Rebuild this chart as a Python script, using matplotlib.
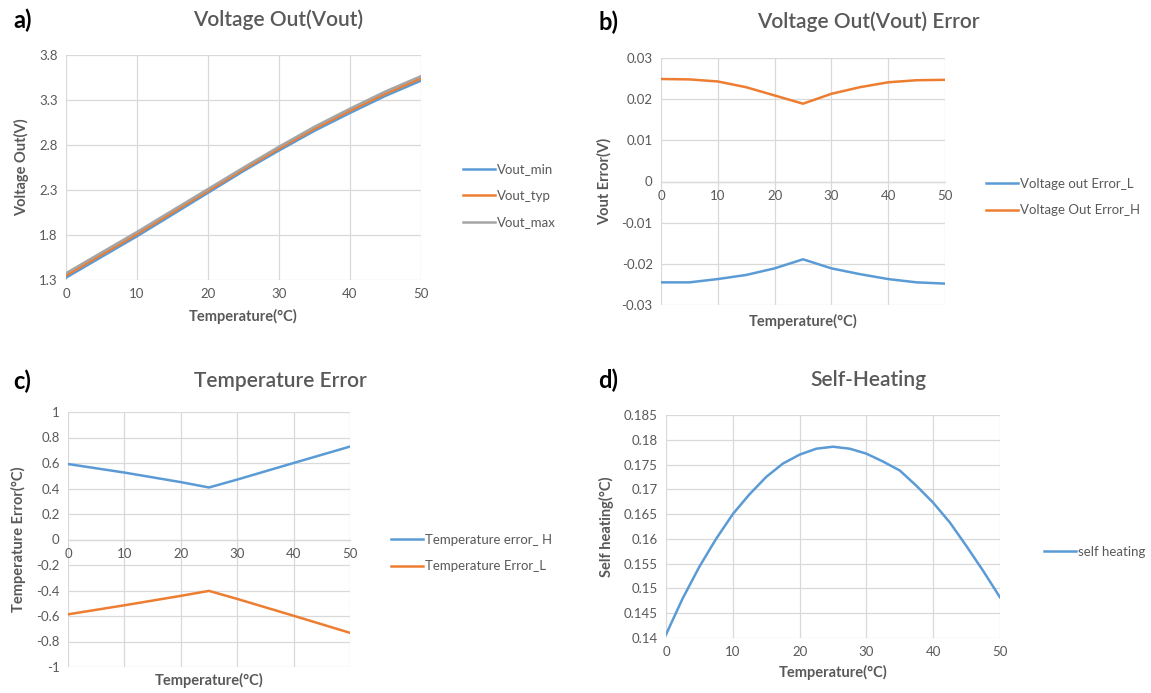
import numpy as np
import matplotlib
matplotlib.use("Agg")
import matplotlib.pyplot as plt

plt.rcParams['font.family'] = ['Lato', 'DejaVu Sans']

W, H = 1151, 693
TXT = '#595959'
GRID = '#d9d9d9'
BLUE = '#5B9BD5'
ORANGE = '#ED7D31'
GREY = '#A5A5A5'

# ---- data ----
temp = [0, 5, 10, 15, 20, 25, 30, 35, 40, 45, 50]
vout_min = [1.326, 1.556, 1.786, 2.027, 2.269, 2.511, 2.739, 2.958, 3.156, 3.346, 3.515]
vout_typ = [1.350, 1.580, 1.810, 2.050, 2.290, 2.530, 2.760, 2.980, 3.180, 3.370, 3.540]
vout_max = [1.375, 1.605, 1.834, 2.073, 2.311, 2.549, 2.781, 3.003, 3.204, 3.395, 3.565]

err_L = [-0.0245, -0.0245, -0.0237, -0.0227, -0.0211, -0.0189, -0.0211, -0.0225, -0.0237, -0.0245, -0.0248]
err_H = [0.0249, 0.0248, 0.0243, 0.0229, 0.0209, 0.0189, 0.0213, 0.0229, 0.0241, 0.0246, 0.0247]

temp_c = [0, 10, 20, 25, 30, 40, 50]
terr_H = [0.592, 0.525, 0.450, 0.408, 0.470, 0.600, 0.729]
terr_L = [-0.587, -0.516, -0.442, -0.403, -0.466, -0.598, -0.732]

temp_d = [0, 2.5, 5, 7.5, 10, 12.5, 15, 17.5, 20, 22.5, 25, 27.5, 30, 32.5, 35, 37.5, 40, 42.5, 45, 47.5, 50]
self_heat = [0.1407, 0.1480, 0.1544, 0.1600, 0.1650, 0.1690, 0.1725, 0.1752, 0.1770, 0.1782, 0.1786,
             0.1782, 0.1772, 0.1756, 0.1738, 0.1707, 0.1673, 0.1633, 0.1585, 0.1535, 0.1482]

fig = plt.figure(figsize=(W / 100, H / 100), dpi=100)
fig.patch.set_facecolor('white')


def fx(x):
    return x / W


def fy(y):
    return 1 - y / H


def make_ax(x0, y0, x1, y1):
    ax = fig.add_axes([fx(x0), fy(y1), fx(x1) - fx(x0), fy(y0) - fy(y1)])
    for s in ax.spines.values():
        s.set_visible(False)
    ax.grid(True, color=GRID, linewidth=0.9)
    ax.set_axisbelow(True)
    ax.tick_params(length=0, labelsize=9.5, colors=TXT, pad=6)
    return ax


def cross_zero(ax):
    # x axis crosses at y = 0 like in Excel
    ax.spines['bottom'].set_visible(True)
    ax.spines['bottom'].set_position(('data', 0))
    ax.spines['bottom'].set_color(GRID)
    ax.spines['bottom'].set_linewidth(0.9)


def head(x_lab, y_lab, lab, x_t, title):
    fig.text(fx(x_lab), fy(y_lab), lab, fontsize=17, fontweight='bold', color='black', va='center')
    fig.text(fx(x_t), fy(y_lab), title, fontsize=15, fontweight='semibold', color=TXT,
             ha='center', va='center')


def labels(ax, xl, yl, xpad=8):
    ax.set_xlabel(xl, fontsize=10.5, fontweight='bold', color=TXT, labelpad=xpad)
    ax.set_ylabel(yl, fontsize=10.5, fontweight='bold', color=TXT, labelpad=7)


def legend(ax, x, y):
    ax.legend(loc='center left', bbox_to_anchor=(fx(x), fy(y)), bbox_transform=fig.transFigure,
              frameon=False, fontsize=9.5, labelcolor=TXT, handlelength=2.4, handletextpad=0.15,
              labelspacing=1.1)


lw = 1.8

# a) Voltage out
ax = make_ax(66, 55, 421, 280)
ax.plot(temp, vout_min, color=BLUE, lw=lw, label='Vout_min')
ax.plot(temp, vout_typ, color=ORANGE, lw=lw, label='Vout_typ')
ax.plot(temp, vout_max, color=GREY, lw=lw, label='Vout_max')
ax.set_xlim(0, 50)
ax.set_ylim(1.3, 3.8)
ax.set_xticks([0, 10, 20, 30, 40, 50])
ax.set_yticks([1.3, 1.8, 2.3, 2.8, 3.3, 3.8])
labels(ax, 'Temperature(°C)', 'Voltage Out(V)', xpad=6)
legend(ax, 451, 196)
head(13, 20, 'a)', 278, 'Voltage Out(Vout)')

# b) Voltage out error
ax = make_ax(661, 58, 945, 305)
ax.plot(temp, err_L, color=BLUE, lw=lw, label='Voltage out Error_L')
ax.plot(temp, err_H, color=ORANGE, lw=lw, label='Voltage Out Error_H')
ax.set_xlim(0, 50)
ax.set_ylim(-0.03, 0.03)
ax.set_xticks([0, 10, 20, 30, 40, 50])
ax.set_yticks([-0.03, -0.02, -0.01, 0, 0.01, 0.02, 0.03])
ax.set_yticklabels(['-0.03', '-0.02', '-0.01', '0', '0.01', '0.02', '0.03'])
cross_zero(ax)
labels(ax, 'Temperature(°C)', 'Vout Error(V)')
ax.xaxis.set_label_coords(0.5, -0.035)
legend(ax, 974, 197)
head(598, 22, 'b)', 868, 'Voltage Out(Vout) Error')

# c) Temperature error
ax = make_ax(68, 412, 350, 667)
ax.plot(temp_c, terr_H, color=BLUE, lw=lw, label='Temperature error_ H')
ax.plot(temp_c, terr_L, color=ORANGE, lw=lw, label='Temperature Error_L')
ax.set_xlim(0, 50)
ax.set_ylim(-1, 1)
ax.set_xticks([0, 10, 20, 30, 40, 50])
ax.set_yticks([-1, -0.8, -0.6, -0.4, -0.2, 0, 0.2, 0.4, 0.6, 0.8, 1])
ax.set_yticklabels(['-1', '-0.8', '-0.6', '-0.4', '-0.2', '0', '0.2', '0.4', '0.6', '0.8', '1'])
cross_zero(ax)
labels(ax, 'Temperature(°C)', 'Temperature Error(°C)')
ax.xaxis.set_label_coords(0.5, -0.025)
legend(ax, 379, 553)
head(13, 381, 'c)', 280, 'Temperature Error')

# d) Self heating
ax = make_ax(666, 415, 1000, 638)
ax.plot(temp_d, self_heat, color=BLUE, lw=lw, label='self heating')
ax.set_xlim(0, 50)
ax.set_ylim(0.14, 0.185)
ax.set_xticks([0, 10, 20, 30, 40, 50])
ax.set_yticks(np.arange(0.14, 0.1851, 0.005))
ax.set_yticklabels(['0.14', '0.145', '0.15', '0.155', '0.16', '0.165', '0.17', '0.175', '0.18', '0.185'])
labels(ax, 'Temperature(°C)', 'Self heating(°C)', xpad=5)
legend(ax, 1032, 552)
head(598, 380, 'd)', 868, 'Self-Heating')

fig.savefig('out.png', dpi=100, facecolor='white')
